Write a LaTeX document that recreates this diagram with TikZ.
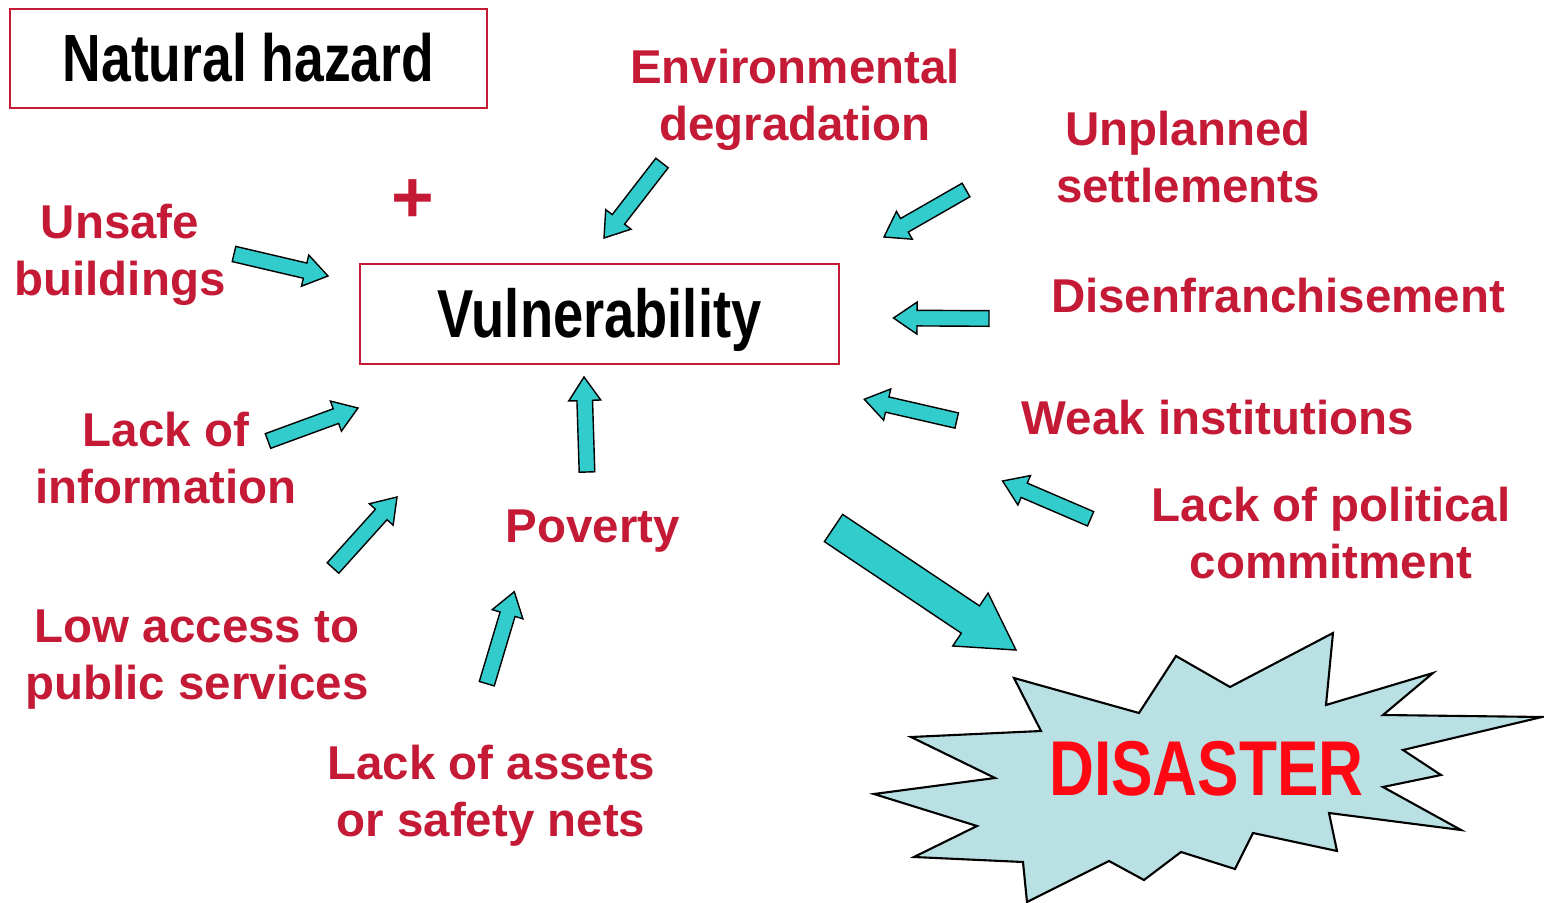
\documentclass[tikz,border=0pt]{standalone}
\usepackage{fontspec}
\setmainfont{Liberation Sans}
\newfontfamily\narrowsans[FakeStretch=0.8]{Liberation Sans}
\usepackage{tikz}
\usetikzlibrary{calc}

\definecolor{crimson}{RGB}{196,26,54}
\definecolor{arrowcyan}{RGB}{51,204,204}
\definecolor{burst}{RGB}{185,224,227}
\definecolor{disred}{RGB}{255,8,20}

% block arrow: tail, tip, half shaft, half head, head length
\newcommand{\blockarrow}[5]{%
  \draw[arrowbody] ($(#1)!#3!90:(#2)$) -- ($(#2)!#5!(#1)!#3!90:(#2)$)
    -- ($(#2)!#5!(#1)!#4!90:(#2)$) -- (#2) -- ($(#2)!#5!(#1)!#4!-90:(#2)$)
    -- ($(#2)!#5!(#1)!#3!-90:(#2)$) -- ($(#1)!#3!-90:(#2)$) -- cycle;}

\begin{document}
\begin{tikzpicture}[x=0.01cm,y=-0.01cm,
    lab/.style={text=crimson,font=\fontsize{13.5}{16.2}\selectfont\bfseries,align=center,inner sep=0pt,
      execute at begin node=\strut,execute at end node=\strut},
    termbox/.style={draw=crimson,line width=0.6pt,text height=13.2pt,text depth=0pt,inner sep=0pt},
    arrowbody/.style={fill=arrowcyan,draw=black,line width=0.4pt}]
        \useasboundingbox (0,0) rectangle (1544,903);
        % boxes
        \node[termbox,minimum width=4.77cm,minimum height=0.99cm,
          font=\narrowsans\bfseries\fontsize{19}{23}\selectfont] (hazard) at (248.5,58.5) {Natural hazard};
        \node[termbox,minimum width=4.79cm,minimum height=1cm,
          font=\narrowsans\bfseries\fontsize{19.3}{23}\selectfont] (vuln) at (599.5,314) {Vulnerability};
        \node[text=crimson,font=\bfseries\fontsize{20.8}{24}\selectfont,inner sep=0pt] (plus) at (413,201) {+};
        % causes
        \node[lab] (unsafe) at (120,258) {Unsafe\\buildings};
        \node[lab] (envdeg) at (795,103.5) {Environmental\\degradation};
        \node[lab] (unplanned) at (1188,165.8) {Unplanned\\settlements};
        \node[lab] (disenfr) at (1278,301.6) {Disenfranchisement};
        \node[lab] (weak) at (1218,423.6) {Weak institutions};
        \node[lab] (political) at (1331,541.5) {Lack of political\\commitment};
        \node[lab] (info) at (166,466.4) {Lack of\\information};
        \node[lab] (access) at (197,663.4) {Low access to\\public services};
        \node[lab] (poverty) at (593,531) {Poverty};
        \node[lab] (assets) at (491,799) {Lack of assets\\or safety nets};
        % arrow ends
        \coordinate (unsafe-a) at (234,254);    \coordinate (unsafe-b) at (328,276);
        \coordinate (envdeg-a) at (662,163);    \coordinate (envdeg-b) at (604,238);
        \coordinate (unplan-a) at (966,190);    \coordinate (unplan-b) at (884,237);
        \coordinate (disen-a) at (989,318.5);   \coordinate (disen-b) at (893.5,318);
        \coordinate (weak-a) at (956.7,420.5);  \coordinate (weak-b) at (864.3,399.3);
        \coordinate (polit-a) at (1090.6,518.8);\coordinate (polit-b) at (1002.6,481);
        \coordinate (info-a) at (268,441);      \coordinate (info-b) at (358,408);
        \coordinate (access-a) at (333,568);    \coordinate (access-b) at (397,497);
        \coordinate (assets-a) at (486.8,683.7);\coordinate (assets-b) at (514.3,591.7);
        \coordinate (pov-a) at (587,472);       \coordinate (pov-b) at (584,377);
        \coordinate (dis-a) at (833.5,528);     \coordinate (dis-b) at (1016,650);
        \blockarrow{unsafe-a}{unsafe-b}{0.078cm}{0.16cm}{0.235cm}
        \blockarrow{envdeg-a}{envdeg-b}{0.078cm}{0.16cm}{0.235cm}
        \blockarrow{unplan-a}{unplan-b}{0.078cm}{0.16cm}{0.235cm}
        \blockarrow{disen-a}{disen-b}{0.078cm}{0.16cm}{0.235cm}
        \blockarrow{weak-a}{weak-b}{0.078cm}{0.16cm}{0.235cm}
        \blockarrow{polit-a}{polit-b}{0.078cm}{0.16cm}{0.235cm}
        \blockarrow{info-a}{info-b}{0.078cm}{0.16cm}{0.235cm}
        \blockarrow{access-a}{access-b}{0.078cm}{0.16cm}{0.235cm}
        \blockarrow{assets-a}{assets-b}{0.078cm}{0.16cm}{0.235cm}
        \blockarrow{pov-a}{pov-b}{0.078cm}{0.16cm}{0.235cm}
        \blockarrow{dis-a}{dis-b}{0.164cm}{0.318cm}{0.548cm}
        % disaster burst
        \draw[fill=burst,line width=0.6pt] (1014,678) -- (1139,713) -- (1176,656) -- (1230,687)
          -- (1333,633) -- (1326,705) -- (1433,673) -- (1383,715) -- (1542,717) -- (1403,750)
          -- (1441,775) -- (1383,787) -- (1461,830) -- (1329,813) -- (1337,851) -- (1253,833)
          -- (1235,869) -- (1181,852) -- (1144,880) -- (1109,861) -- (1027,902) -- (1023,862)
          -- (914,857) -- (977,826) -- (874,794) -- (995,778) -- (911,737) -- (1041,731) -- cycle;
        \node[text=disred,font=\narrowsans\bfseries\fontsize{22.1}{26}\selectfont,
          text height=15.2pt,text depth=0pt,inner sep=0pt] (disaster) at (1206.5,768.7) {DISASTER};
    \end{tikzpicture}
\end{document}
